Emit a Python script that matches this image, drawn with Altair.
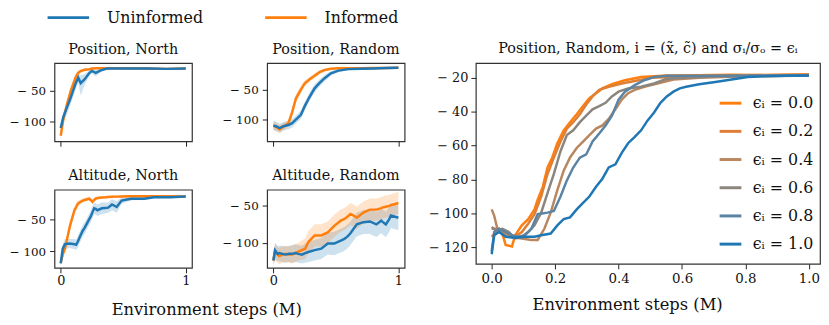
import altair as alt
import pandas as pd

FONT = "DejaVu Serif"
BLUE = "#1f77b4"
ORANGE = "#ff7f0e"
SERIES = ["Uninformed", "Informed"]

# ---------------- Panel 1: Position, North ----------------
p1_x = [0, 0.02, 0.05, 0.08, 0.12, 0.14, 0.16, 0.19, 0.23, 0.25, 0.28, 0.32, 0.37, 0.5, 0.7, 0.85, 1.0]
p1_blue = [-111, -93, -77, -61, -37, -28, -37, -31, -20, -17, -20, -16, -13, -13, -13, -13.5, -13]
p1_blue_lo = [-115, -102, -88, -72, -47, -36, -58, -40, -25, -21, -26, -19, -14, -14, -14, -14.5, -14]
p1_blue_hi = [-107, -85, -66, -50, -28, -21, -24, -22, -16, -14, -15, -13, -12, -12, -12, -12.5, -12]
p1_orange = [-124, -98, -72, -50, -27, -20, -17, -15, -14, -13, -12.5, -12.5, -12.5, -12.5, -13, -13.5, -13]
p1_orange_lo = [-128, -104, -78, -56, -32, -24, -20, -17, -15.5, -14.5, -14, -14, -14, -13.5, -14, -15, -14]
p1_orange_hi = [-120, -92, -66, -44, -22, -16, -14.5, -13.5, -12.5, -12, -11.5, -11.5, -11.5, -11.5, -12, -12, -12]

# ---------------- Panel 2: Position, Random ----------------
p2_x = [0, 0.02, 0.05, 0.08, 0.12, 0.15, 0.18, 0.22, 0.25, 0.29, 0.33, 0.37, 0.41, 0.46, 0.52, 0.6, 0.7, 0.8, 0.9, 1.0]
p2_blue = [-110, -111, -114, -111, -109, -106, -100, -92, -78, -62, -48, -39, -31, -23, -18.5, -16, -15.3, -14.8, -14.2, -13.8]
p2_blue_lo = [-118, -119, -121, -118, -116, -113, -107, -99, -85, -69, -55, -45, -36, -27, -21, -18, -17, -16.5, -16, -15.5]
p2_blue_hi = [-102, -103, -107, -104, -102, -99, -93, -85, -71, -55, -41, -33, -26, -19, -16, -14, -13.5, -13, -12.5, -12.2]
p2_orange = [-110, -112, -116, -112, -106, -88, -65, -50, -40, -33, -27, -21, -17.5, -15.5, -14.5, -14.5, -14.5, -14.3, -14, -13.8]
p2_orange_lo = [-116, -119, -123, -118, -111, -95, -72, -56, -45, -37, -31, -24, -20, -17, -16, -16, -16, -15.8, -15.5, -15.3]
p2_orange_hi = [-104, -105, -109, -106, -101, -81, -58, -44, -35, -29, -23, -18, -15, -14, -13, -13, -13, -12.8, -12.5, -12.3]

# ---------------- Panel 3: Altitude, North ----------------
p3_x = [0, 0.016, 0.034, 0.073, 0.11, 0.124, 0.137, 0.15, 0.176, 0.19, 0.228, 0.24, 0.254, 0.267, 0.28, 0.293, 0.33,
        0.357, 0.38, 0.41, 0.448, 0.487, 0.54, 0.565, 0.668, 0.746, 0.8, 0.876, 1.0]
p3_blue = [-119, -96, -89, -88, -89, -90, -85, -79, -68, -64, -50, -46, -39, -33, -34, -36, -33, -32.5, -32, -27, -31,
           -21, -19, -18, -18, -15.7, -15.7, -15.7, -14.7]
p3_blue_lo = [-124, -104, -97, -95, -97, -98, -94, -88, -77, -73, -59, -55, -48, -42, -43, -45, -42, -41, -40, -36, -40,
              -26, -22, -20.5, -20, -17.5, -17.5, -17.5, -16.5]
p3_blue_hi = [-114, -88, -81, -81, -81, -82, -76, -70, -59, -55, -41, -37, -30, -24, -25, -27, -24, -24, -24, -19, -22,
              -16, -16, -15.5, -16, -14, -14, -14, -13]
p3_orange = [-118, -105, -96, -61, -36, -31, -26, -24, -21, -20, -18, -20, -23, -20, -18, -17, -16, -15.7, -15.3, -15,
             -14.8, -14.5, -14.2, -14.2, -14.2, -14.2, -14.2, -14.3, -14.5]
p3_orange_lo = [-122, -111, -103, -69, -43, -37, -31, -28, -24, -23, -21, -23, -26, -23, -20.5, -19, -18, -17.5, -17,
                -16.5, -16.3, -16, -15.7, -15.7, -15.7, -15.7, -15.7, -15.8, -16]
p3_orange_hi = [-114, -99, -89, -53, -29, -25, -21, -20, -18, -17, -15, -17, -20, -17, -15.5, -15, -14, -14, -13.6,
                -13.5, -13.3, -13, -12.7, -12.7, -12.7, -12.7, -12.7, -12.8, -13]

# ---------------- Panel 4: Altitude, Random ----------------
p4_x = [0, 0.013, 0.034, 0.047, 0.073, 0.098, 0.124, 0.15, 0.176, 0.2, 0.228, 0.254, 0.28, 0.33, 0.383, 0.435, 0.487,
        0.539, 0.565, 0.59, 0.617, 0.642, 0.668, 0.72, 0.772, 0.824, 0.863, 0.876, 0.9, 0.927, 0.94, 1.0]
p4_blue = [-124, -110, -115, -114, -115, -116, -115, -115, -114, -115, -116, -114, -112.5, -110, -108, -101, -101,
           -97, -95, -92, -87, -81, -75, -72, -71, -75, -70, -72, -75, -68, -63, -66]
p4_blue_lo = [-130, -122, -125, -125, -126, -127, -126, -127, -126, -127, -128, -127, -126, -124, -122, -116, -117,
              -113, -111, -108, -103, -97, -91, -88, -88, -92, -87, -89, -92, -85, -80, -83]
p4_blue_hi = [-118, -100, -105, -104, -104, -105, -104, -103, -102, -103, -104, -101, -99, -96, -94, -86, -85,
              -81, -79, -76, -71, -65, -59, -56, -54, -58, -53, -55, -58, -51, -46, -49]
p4_orange = [-124, -112, -116, -118, -116, -115, -116, -116, -114, -112, -110, -108, -99, -90, -90, -86, -77,
             -70, -68, -65, -61, -63, -66, -59, -55, -55, -53, -52, -51, -50, -49, -46]
p4_orange_lo = [-130, -124, -127, -129, -127, -126, -127, -128, -126, -124, -123, -122, -114, -105, -105, -101, -92,
                -85, -83, -80, -76, -78, -81, -74, -70, -70, -68, -67, -66, -65, -64, -61]
p4_orange_hi = [-118, -101, -105, -107, -105, -104, -105, -104, -102, -100, -97, -94, -84, -75, -75, -71, -62,
                -55, -53, -50, -46, -48, -51, -44, -40, -40, -38, -37, -36, -35, -34, -31]

# ---------------- Right panel: Position, Random, eps sweep ----------------
EPS_LABELS = ["ϵᵢ = 0.0", "ϵᵢ = 0.2", "ϵᵢ = 0.4", "ϵᵢ = 0.6", "ϵᵢ = 0.8", "ϵᵢ = 1.0"]
EPS_COLORS = ["#ff7f0e", "#df7f36", "#b8875f", "#8b857e", "#5b84a4", "#1f77b4"]

e00_x = [0, 0.013, 0.023, 0.034, 0.044, 0.064, 0.074, 0.095, 0.115, 0.135, 0.145, 0.161, 0.176, 0.191, 0.207, 0.227,
         0.247, 0.268, 0.288, 0.308, 0.329, 0.349, 0.379, 0.42, 0.471, 0.552, 0.654, 0.75, 0.85, 1.0]
e00_y = [-113.7, -110.9, -109, -112, -118.5, -119.4, -112.8, -107, -103.3, -97.6, -91.9, -84.3, -72.9, -67, -58.6,
         -51, -46.2, -41.5, -36.7, -32, -29.1, -26.3, -23.8, -21.5, -19.6, -18.7, -18.5, -18.2, -18.4, -18.1]
e02_x = [0, 0.013, 0.034, 0.054, 0.074, 0.095, 0.115, 0.135, 0.156, 0.176, 0.196, 0.217, 0.237, 0.257, 0.278, 0.298,
         0.318, 0.339, 0.369, 0.41, 0.451, 0.502, 0.654, 0.8, 1.0]
e02_y = [-109, -109, -110, -112.8, -113.7, -110.9, -106, -100.4, -90, -76.7, -67, -57.6, -50, -46.2, -41.5, -35.8,
         -31, -27.2, -25.3, -23.4, -21.9, -20, -19, -18.6, -18.1]
e04_x = [0, 0.008, 0.018, 0.034, 0.054, 0.095, 0.125, 0.145, 0.166, 0.186, 0.207, 0.227, 0.247, 0.268, 0.288, 0.308,
         0.329, 0.349, 0.369, 0.39, 0.41, 0.43, 0.451, 0.481, 0.522, 0.573, 0.654, 0.8, 1.0]
e04_y = [-97.6, -101.4, -109, -110.9, -113.7, -114.7, -115.6, -115.6, -109, -99.5, -86.2, -74.8, -67, -61.4, -57.6,
         -53.8, -50, -48.1, -44.3, -38.6, -32.9, -29.1, -27.2, -25.3, -23.4, -21.1, -20, -19.2, -18.7]
e06_x = [0, 0.013, 0.034, 0.054, 0.074, 0.095, 0.115, 0.135, 0.156, 0.176, 0.196, 0.217, 0.237, 0.257, 0.278, 0.298,
         0.318, 0.339, 0.359, 0.379, 0.4, 0.43, 0.471, 0.512, 0.552, 0.654, 0.8, 1.0]
e06_y = [-108, -110, -109, -110.9, -114.7, -113.7, -110.9, -107, -99.5, -88, -76.7, -63.3, -53.8, -51, -46.2, -42.4,
         -38.6, -36.7, -34.8, -31, -28.2, -26.3, -25.3, -23.4, -20.6, -19.6, -19, -18.7]
e08_x = [0, 0.008, 0.023, 0.044, 0.064, 0.084, 0.105, 0.125, 0.145, 0.176, 0.196, 0.217, 0.237, 0.257, 0.278, 0.298,
         0.318, 0.339, 0.359, 0.379, 0.4, 0.42, 0.451, 0.481, 0.512, 0.552, 0.7, 1.0]
e08_y = [-122.3, -110.9, -109, -110.9, -112.8, -113.7, -112.8, -109, -100.4, -99.5, -98.5, -90, -80.5, -72.9, -67.1,
         -65.2, -57.6, -52.9, -48.1, -42.4, -32.9, -28.2, -24.4, -21.5, -19.6, -18.9, -18.8, -18.7]
e10_x = [0, 0.008, 0.023, 0.044, 0.074, 0.105, 0.135, 0.156, 0.186, 0.207, 0.227, 0.247, 0.268, 0.288, 0.308, 0.329,
         0.349, 0.369, 0.39, 0.41, 0.43, 0.451, 0.471, 0.491, 0.512, 0.532, 0.552, 0.573, 0.593, 0.613, 0.654, 0.705,
         0.756, 0.807, 0.858, 0.93, 1.0]
e10_y = [-124, -112.8, -110.9, -113.7, -114.3, -113.7, -113.7, -112.8, -111.8, -107, -103.3, -102.3, -97.6, -93.8,
         -90, -84.3, -79.5, -72.9, -71, -64.3, -58.6, -54.8, -51, -45.3, -40.5, -34.8, -31, -28.2, -26.3, -25.3,
         -23.8, -22.5, -21.1, -19.6, -19.2, -18.9, -18.7]

EPS_X = [e00_x, e02_x, e04_x, e06_x, e08_x, e10_x]
EPS_Y = [e00_y, e02_y, e04_y, e06_y, e08_y, e10_y]


def two_series(x, b, blo, bhi, o, olo, ohi):
    rows = []
    for name, m, lo, hi in [("Uninformed", b, blo, bhi), ("Informed", o, olo, ohi)]:
        for xi, mi, l, h in zip(x, m, lo, hi):
            rows.append({"x": xi, "mean": mi, "lo": l, "hi": h, "series": name})
    return pd.DataFrame(rows)


color_scale = alt.Scale(domain=SERIES, range=[BLUE, ORANGE])
fill_scale = alt.Scale(domain=SERIES, range=[BLUE, ORANGE])
XDOM = [-0.05, 1.05]

# wide, flat legend line: a custom path 4x wider than its (small) symbol box
top_legend = alt.Legend(orient="none", legendX=6, legendY=-54, direction="horizontal", title=None,
                        symbolType="M-4,0H4", symbolSize=110, symbolStrokeWidth=3, symbolOpacity=1,
                        labelFont=FONT, labelFontSize=16, labelColor="#111", labelOffset=31,
                        columnPadding=56)


def small_panel(title, df, ydom, xlabels):
    xscale = alt.Scale(domain=XDOM, nice=False, zero=False)
    yscale = alt.Scale(domain=ydom, nice=False, zero=False)
    xaxis = alt.Axis(values=[0, 1], labels=xlabels, format=".0f", title=None, tickSize=5, grid=False, domain=False,
                     labelFontSize=13, labelFont=FONT, labelColor="#111", labelPadding=2, tickColor="#222")
    yaxis = alt.Axis(values=[-50, -100], labelExpr="'− ' + abs(datum.value)", title=None, tickSize=5,
                     grid=False, domain=False, labelFontSize=12, labelFont=FONT, labelColor="#111",
                     labelPadding=4, tickColor="#222", minExtent=46, maxExtent=46)
    band = alt.Chart(df).mark_area(fillOpacity=0.22, clip=True).encode(
        x=alt.X("x:Q", scale=xscale, axis=xaxis),
        y=alt.Y("lo:Q", scale=yscale, axis=yaxis),
        y2="hi:Q",
        fill=alt.Fill("series:N", scale=fill_scale, legend=None),
    )
    lines = []
    for name in ["Informed", "Uninformed"]:
        lines.append(
            alt.Chart(df).transform_filter(alt.datum.series == name).mark_line(strokeWidth=2.5, clip=True).encode(
                x=alt.X("x:Q", scale=xscale),
                y=alt.Y("mean:Q", scale=yscale),
                color=alt.Color("series:N", scale=color_scale, legend=top_legend),
            )
        )
    return alt.layer(band, *lines).properties(
        width=139, height=79,
        title=alt.TitleParams(title, font=FONT, fontSize=14.5, fontWeight="normal", color="#111", offset=6),
    )


p1 = small_panel("Position, North", two_series(p1_x, p1_blue, p1_blue_lo, p1_blue_hi, p1_orange, p1_orange_lo, p1_orange_hi),
                 [-133, -4], False)
p2 = small_panel("Position, Random", two_series(p2_x, p2_blue, p2_blue_lo, p2_blue_hi, p2_orange, p2_orange_lo, p2_orange_hi),
                 [-136, -6], False)
p3 = small_panel("Altitude, North", two_series(p3_x, p3_blue, p3_blue_lo, p3_blue_hi, p3_orange, p3_orange_lo, p3_orange_hi),
                 [-126, -4], True)
p4 = small_panel("Altitude, Random", two_series(p4_x, p4_blue, p4_blue_lo, p4_blue_hi, p4_orange, p4_orange_lo, p4_orange_hi),
                 [-134, -28], True)

row1 = alt.hconcat(p1, p2, spacing=28)
row2 = alt.hconcat(p3, p4, spacing=28)
left_block = alt.vconcat(row1, row2, spacing=19, title=alt.TitleParams(
    "Environment steps (M)", orient="bottom", anchor="middle", font=FONT, fontSize=16.5,
    fontWeight="normal", color="#111", offset=14))

# right panel
eps_rows = []
for lab, xs, ys in zip(EPS_LABELS, EPS_X, EPS_Y):
    for xi, yi in zip(xs, ys):
        eps_rows.append({"x": xi, "y": yi, "eps": lab})
eps_df = pd.DataFrame(eps_rows)

right = alt.Chart(eps_df).mark_line(strokeWidth=2.5, clip=True).encode(
    x=alt.X("x:Q", scale=alt.Scale(domain=[-0.05, 1.035], nice=False, zero=False),
            axis=alt.Axis(values=[0, 0.2, 0.4, 0.6, 0.8, 1.0], format=".1f", title="Environment steps (M)",
                          titleX=153, titleY=46, titleFont=FONT, titleFontSize=16.5, titleFontWeight="normal",
                          titleColor="#111", titleBaseline="alphabetic", tickSize=5, grid=False, domain=False,
                          labelFontSize=13.5, labelFont=FONT, labelColor="#111", labelPadding=3, tickColor="#222")),
    y=alt.Y("y:Q", scale=alt.Scale(domain=[-129.7, -11.4], nice=False, zero=False),
            axis=alt.Axis(values=[-20, -40, -60, -80, -100, -120], labelExpr="'− ' + abs(datum.value)",
                          title=None, tickSize=5, grid=False, domain=False, labelFontSize=13, labelFont=FONT,
                          labelColor="#111", labelPadding=3, tickColor="#222", minExtent=46, maxExtent=46)),
    color=alt.Color("eps:N", scale=alt.Scale(domain=EPS_LABELS, range=EPS_COLORS), sort=EPS_LABELS,
                    legend=alt.Legend(orient="none", legendX=245, legendY=28, title=None, symbolType="stroke",
                                      symbolSize=484, symbolStrokeWidth=3, labelFont=FONT, labelFontSize=16,
                                      labelColor="#111", labelOffset=10, rowPadding=7.5)),
    order=alt.Order("eps:N", sort="ascending"),
).properties(
    width=348, height=203,
    title=alt.TitleParams("Position, Random, i = (x̃, c̃) and σᵢ/σₒ = ϵᵢ", font=FONT, fontSize=14.5,
                          fontWeight="normal", color="#111", offset=7),
)

chart = alt.hconcat(left_block, right, spacing=22).resolve_scale(color="independent").properties(
    padding={"left": 0, "top": 0, "right": 0, "bottom": 0}
).configure_view(stroke="#333", strokeWidth=1.2)

chart.save("out.html", embed_options={"renderer": "svg", "actions": False})
